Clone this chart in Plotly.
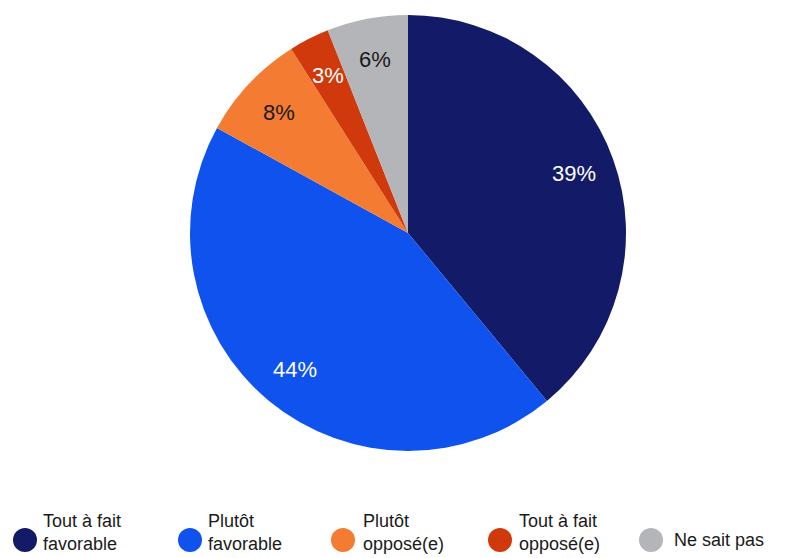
import math
import plotly.graph_objects as go

categories = ["Tout à fait favorable", "Plutôt favorable", "Plutôt opposé(e)", "Tout à fait opposé(e)", "Ne sait pas"]
legend_labels = ["Tout à fait<br>favorable", "Plutôt<br>favorable", "Plutôt<br>opposé(e)", "Tout à fait<br>opposé(e)", "Ne sait pas"]
values = [39, 44, 8, 3, 6]
colors = ["#131b69", "#0f52ee", "#f47b32", "#d0390b", "#b4b5b9"]
text_colors = ["white", "white", "#1a1a1a", "white", "#1a1a1a"]

W, H = 787, 558
cx, cy, R = 408, 233, 218

fig = go.Figure(go.Pie(
    labels=categories, values=values, sort=False, direction="clockwise", rotation=0,
    marker=dict(colors=colors, line=dict(width=0)),
    textinfo="none", hoverinfo="label+percent", showlegend=False,
    domain=dict(x=[(cx - R) / W, (cx + R) / W], y=[(H - (cy + R)) / H, (H - (cy - R)) / H]),
))

total = sum(values)
cum = 0
annotations = []
for v, tc in zip(values, text_colors):
    mid = (cum + v / 2) / total * 2 * math.pi
    cum += v
    r = 0.81 * R
    px = cx + r * math.sin(mid)
    py = cy - r * math.cos(mid)
    annotations.append(dict(x=px / W, y=(H - py) / H, xref="paper", yref="paper",
                            xanchor="center", yanchor="middle",
                            text=f"{round(v / total * 100)}%", showarrow=False,
                            font=dict(family="Liberation Sans, Arial", size=22, color=tc)))

shapes = []
circle_x = [25, 190, 343, 500, 651]
text_x = [41, 206, 361, 517, 672]
cyy = 540
for lab, col, ccx, tx in zip(legend_labels, colors, circle_x, text_x):
    rr = 12
    ly = 532 if "<br>" in lab else cyy
    shapes.append(dict(type="circle", xref="paper", yref="paper",
                       x0=(ccx - rr) / W, x1=(ccx + rr) / W,
                       y0=(H - (cyy + rr)) / H, y1=(H - (cyy - rr)) / H,
                       fillcolor=col, line=dict(width=0)))
    annotations.append(dict(x=tx / W, y=(H - ly) / H, xref="paper", yref="paper",
                            xanchor="left", yanchor="middle", align="left",
                            text=lab, showarrow=False,
                            font=dict(family="Liberation Sans, Arial", size=18, color="#1a1a1a")))

fig.update_layout(
    width=W, height=H, margin=dict(l=0, r=0, t=0, b=0),
    paper_bgcolor="white", plot_bgcolor="white",
    annotations=annotations, shapes=shapes,
)
fig.write_html("out.html", config={"displayModeBar": False},
               post_script="document.body.style.margin='0';document.body.style.overflow='hidden';")
